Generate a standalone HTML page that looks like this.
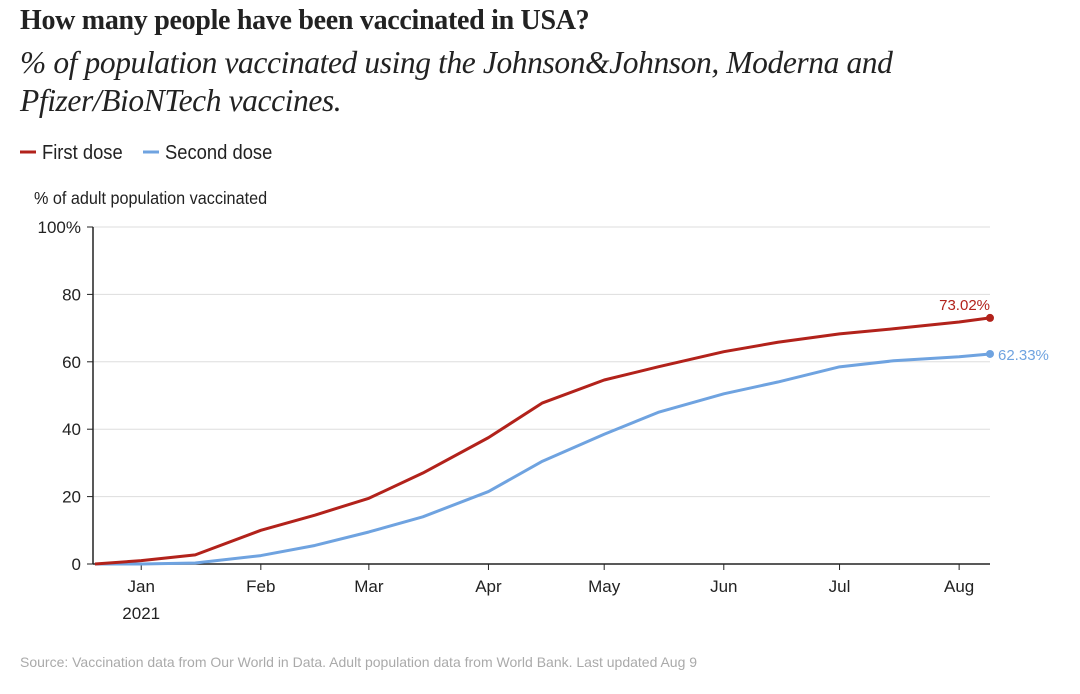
<!DOCTYPE html>
<html><head><meta charset="utf-8"><style>
body{margin:0;background:#fff;width:1080px;height:694px;overflow:hidden;font-family:"Liberation Sans",sans-serif}
.t{position:absolute;left:20px;top:5px;font:bold 28px "Liberation Serif",serif;color:#222;letter-spacing:-0.3px}
.s{position:absolute;left:20px;top:44px;font:italic 31.5px/38px "Liberation Serif",serif;color:#222;width:1040px;letter-spacing:-0.4px}
</style></head><body>
<div class="t">How many people have been vaccinated in USA?</div>
<div class="s">% of population vaccinated using the Johnson&amp;Johnson, Moderna and<br>Pfizer/BioNTech vaccines.</div>
<svg id="c" width="1080" height="694" style="position:absolute;left:0;top:0" font-family="Liberation Sans, sans-serif">
<g>
<line x1="20" y1="152" x2="36" y2="152" stroke="#b2221b" stroke-width="3"/>
<text x="42" y="159" font-size="20" fill="#222" transform="scale(0.92,1)" transform-origin="42 159">First dose</text>
<line x1="143" y1="152" x2="159" y2="152" stroke="#6fa3e0" stroke-width="3"/>
<text x="165" y="159" font-size="20" fill="#222" transform="scale(0.92,1)" transform-origin="165 159">Second dose</text>
</g>
<text x="34" y="204" font-size="18" fill="#222" transform="scale(0.9,1)" transform-origin="34 204">% of adult population vaccinated</text>
<g id="plot"></g>
<text x="20" y="667" font-size="14" fill="#aaa">Source: Vaccination data from Our World in Data. Adult population data from World Bank. Last updated Aug 9</text>
</svg>
<script>
const dayLabels=["Dec 20","Jan 1","Jan 15","Feb 1","Feb 15","Mar 1","Mar 15","Apr 1","Apr 15","May 1","May 15","Jun 1","Jun 15","Jul 1","Jul 15","Aug 1","Aug 9"];
const days=[-12,0,14,31,45,59,73,90,104,120,134,151,165,181,195,212,220];
const firstDose=[0,1,2.7,10,14.5,19.5,27,37.5,47.8,54.6,58.5,63,65.8,68.3,69.8,71.8,73.02];
const secondDose=[0,0,0.3,2.5,5.5,9.5,14,21.5,30.5,38.5,45,50.5,54,58.5,60.3,61.5,62.33];
const yTicks=[0,20,40,60,80,100];
const yTickLabels=["0","20","40","60","80","100%"];
const monthNames=["Jan","Feb","Mar","Apr","May","Jun","Jul","Aug"];
const monthDays=[0,31,59,90,120,151,181,212];

const NS="http://www.w3.org/2000/svg";
const g=document.getElementById('plot');
const x0=93,x1=990,y0=564,y1=227;
const X=d=>x0+(d+12.5)*(x1-x0)/(232.5);
const Y=v=>y0-(v/100)*(y0-y1);
function mk(t,a){const e=document.createElementNS(NS,t);for(const k in a)e.setAttribute(k,a[k]);g.appendChild(e);return e;}
yTicks.forEach((v,i)=>{
  const l=mk('line',{x1:x0,x2:x1,y1:Y(v),y2:Y(v),stroke:v===0?'#222':'#ddd','stroke-width':v===0?1.5:1});
  
  
  mk('line',{x1:x0-6,x2:x0,y1:Y(v),y2:Y(v),stroke:'#222'});
  const t=mk('text',{x:x0-12,y:Y(v)+6,'text-anchor':'end','font-size':17,fill:'#222'});
  t.textContent=yTickLabels[i];
  
  
});
mk('line',{x1:x0,x2:x0,y1:y1,y2:y0,stroke:'#222','stroke-width':1.5});
monthNames.forEach((m,i)=>{
  const x=X(monthDays[i]);
  mk('line',{x1:x,x2:x,y1:y0,y2:y0+6,stroke:'#222'});
  const t=mk('text',{x:x,y:y0+28,'text-anchor':'middle','font-size':17,fill:'#222'});
  t.textContent=m;
  
  
});
const yr=mk('text',{x:X(0),y:y0+55,'text-anchor':'middle','font-size':17,fill:'#222'});
yr.textContent='2021';


function series(vals,col,name,lab,dy){
  const p=mk('polyline',{points:days.map((d,i)=>X(d)+','+Y(vals[i])).join(' '),fill:'none',stroke:col,'stroke-width':3,'stroke-linejoin':'round'});
  
  
  const n=vals.length-1;
  const c=mk('circle',{cx:X(days[n]),cy:Y(vals[n]),r:4,fill:col});
  
  
  const t=mk('text',{x:lab==='r'?X(days[n])+8:X(days[n]),y:Y(vals[n])+dy,'text-anchor':lab==='r'?'start':'end','font-size':15,fill:col});
  t.textContent=vals[n].toFixed(2)+'%';
  
  
}
series(secondDose,'#6fa3e0','second-dose','r',6);
series(firstDose,'#b2221b','first-dose','a',-8);
</script>
</body></html>
